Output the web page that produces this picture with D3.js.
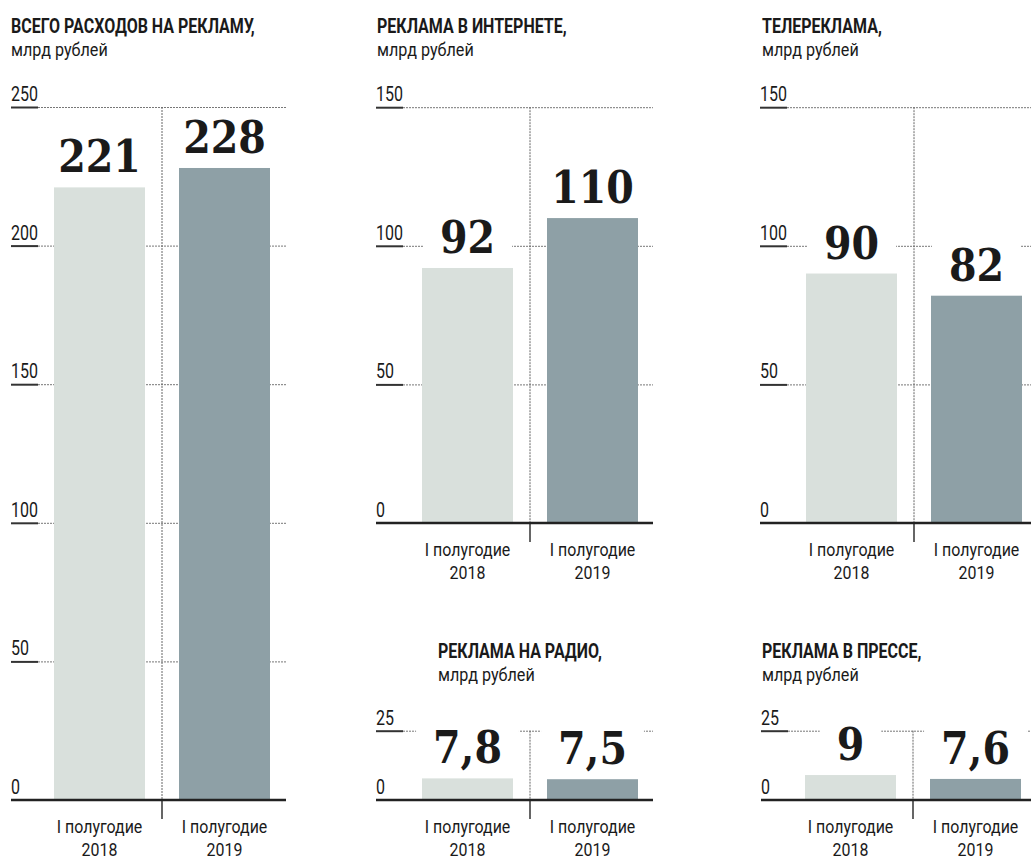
<!DOCTYPE html>
<html>
<head>
<meta charset="utf-8">
<script src="https://cdn.jsdelivr.net/npm/d3@7"></script>
<style>
  html, body { margin: 0; padding: 0; background: #fff; }
  svg { display: block; }
  .cond { font-family: "Roboto", "Noto Sans", sans-serif; }
  .val { font-family: "DejaVu Serif", serif; font-weight: bold; }
</style>
</head>
<body>
<svg id="chart" width="1031" height="861"></svg>
<script>
// ---- data ----
const categories = ["I полугодие 2018", "I полугодие 2019"];
const catLine1 = ["I полугодие", "I полугодие"];
const catLine2 = ["2018", "2019"];

const totalValues = [221, 228];
const internetValues = [92, 110];
const tvValues = [90, 82];
const radioValues = [7.8, 7.5];
const pressValues = [9, 7.6];

const totalLabels = ["221", "228"];
const internetLabels = ["92", "110"];
const tvLabels = ["90", "82"];
const radioLabels = ["7,8", "7,5"];
const pressLabels = ["9", "7,6"];

const totalTicks = [0, 50, 100, 150, 200, 250];
const bigTicks = [0, 50, 100, 150];
const smallTicks = [0, 25];

const titles = ["ВСЕГО РАСХОДОВ НА РЕКЛАМУ,", "РЕКЛАМА В ИНТЕРНЕТЕ,", "ТЕЛЕРЕКЛАМА,", "РЕКЛАМА НА РАДИО,", "РЕКЛАМА В ПРЕССЕ,"];
const unit = "млрд рублей";

const colors = ["#d9e0dc", "#8ea0a6"];

// ---- layout ----
const panels = [
  { title: titles[0], values: totalValues, labels: totalLabels, ticks: totalTicks, x0: 11, x1: 286, y0: 800, titleX: 11, titleY: 33, barX: 54 },
  { title: titles[1], values: internetValues, labels: internetLabels, ticks: bigTicks, x0: 376, x1: 653, y0: 523, titleX: 377, titleY: 33, barX: 422 },
  { title: titles[2], values: tvValues, labels: tvLabels, ticks: bigTicks, x0: 760, x1: 1031, y0: 523, titleX: 762, titleY: 33, barX: 806 },
  { title: titles[3], values: radioValues, labels: radioLabels, ticks: smallTicks, x0: 376, x1: 653, y0: 800, titleX: 438, titleY: 658, barX: 422 },
  { title: titles[4], values: pressValues, labels: pressLabels, ticks: smallTicks, x0: 761, x1: 1031, y0: 800, titleX: 762, titleY: 658, barX: 805 }
];
const pxPerUnit = 2.772;

const svg = d3.select("#chart");

function ctext(g, x, y, str, size, weight, anchor, sx) {
  return g.append("text").attr("class", "cond")
    .attr("transform", `translate(${x},${y}) scale(${sx},1)`)
    .attr("text-anchor", anchor || "start")
    .attr("font-size", size).attr("font-weight", weight || "normal")
    .attr("fill", "#1a1a1a").text(str);
}

panels.forEach(p => {
  const g = svg.append("g");
  const maxT = d3.max(p.ticks);
  const y = d3.scaleLinear().domain([0, maxT]).range([p.y0, p.y0 - maxT * pxPerUnit]);
  const x = d3.scaleBand().domain(categories).range([p.barX, p.barX + 216]).paddingInner(0.272).paddingOuter(0);
  const divX = x(categories[0]) + x.bandwidth() + (x.step() - x.bandwidth()) / 2;

  // title
  ctext(g, p.titleX, p.titleY, p.title, 20, "bold", "start", 0.8);
  ctext(g, p.titleX, p.titleY + 23, unit, 19, "normal", "start", 0.85);

  // gridlines (non-zero)
  p.ticks.filter(t => t > 0).forEach(t => {
    g.append("line").attr("x1", p.x0 + 27).attr("x2", p.x1).attr("y1", y(t) + 0.5).attr("y2", y(t) + 0.5)
      .attr("stroke", "#777").attr("stroke-width", 1).attr("stroke-dasharray", "2,1");
    g.append("line").attr("x1", p.x0).attr("x2", p.x0 + 27).attr("y1", y(t) + 0.5).attr("y2", y(t) + 0.5)
      .attr("stroke", "#333").attr("stroke-width", 2);
  });

  // vertical divider
  g.append("line").attr("x1", divX).attr("x2", divX).attr("y1", y(maxT)).attr("y2", p.y0)
    .attr("stroke", "#666").attr("stroke-width", 1).attr("stroke-dasharray", "2,1");
  g.append("line").attr("x1", divX).attr("x2", divX).attr("y1", p.y0).attr("y2", p.y0 + 19)
    .attr("stroke", "#333").attr("stroke-width", 1.5);

  // tick labels
  p.ticks.forEach(t => {
    ctext(g, p.x0, y(t) - 6, t, 20, "normal", "start", 0.8);
  });

  // bars
  g.selectAll("rect.bar").data(p.values).enter().append("rect").attr("class", "bar")
    .attr("x", (d, i) => x(categories[i])).attr("width", x.bandwidth())
    .attr("y", d => y(d)).attr("height", d => p.y0 - y(d))
    .attr("fill", (d, i) => colors[i]);

  // value labels with white background
  p.values.forEach((v, i) => {
    const cx = x(categories[i]) + x.bandwidth() / 2;
    const by = y(v) - 15;
    const sx = 0.88;
    const t = g.append("text").attr("class", "val")
      .attr("transform", `translate(${cx},${by}) scale(${sx},1)`)
      .attr("text-anchor", "middle").attr("font-size", 45).attr("fill", "#1a1a1a").text(p.labels[i]);
    const w = t.node().getComputedTextLength() * sx;
    g.insert("rect", "text.val")
      .attr("x", cx - w / 2 - 17).attr("width", w + 34)
      .attr("y", by - 33 - 4).attr("height", 33 + 10)
      .attr("fill", "#fff");
  });

  // zero axis
  g.append("line").attr("x1", p.x0).attr("x2", p.x1).attr("y1", p.y0).attr("y2", p.y0)
    .attr("stroke", "#222").attr("stroke-width", 2.5);

  // category labels
  categories.forEach((c, i) => {
    const cx = x(c) + x.bandwidth() / 2;
    ctext(g, cx, p.y0 + 33, catLine1[i], 19, "normal", "middle", 0.84);
    ctext(g, cx, p.y0 + 56, catLine2[i], 19, "normal", "middle", 0.84);
  });
});
</script>
</body>
</html>
